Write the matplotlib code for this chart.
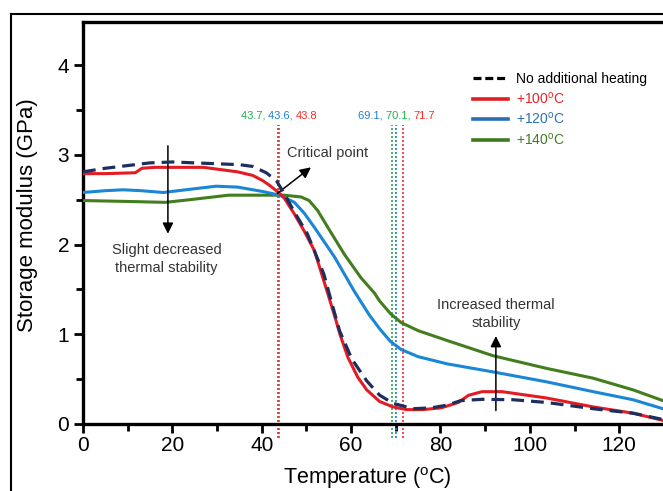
import matplotlib
matplotlib.use("Agg")
import matplotlib.pyplot as plt
from matplotlib.lines import Line2D

plt.rcParams['font.family'] = ['Liberation Sans', 'DejaVu Sans']
plt.rcParams['mathtext.fontset'] = 'custom'
plt.rcParams['mathtext.rm'] = 'Liberation Sans'

# data
temp_none = [0, 5, 10, 15, 20, 25, 30, 35, 38, 41, 43.3, 45, 47.1, 50.2, 53.9, 55.5, 57.4, 60.2, 63.5, 66.4,
             69.4, 73.9, 78, 81.5, 84.5, 89.3, 96.3, 103.7, 114.2, 123.1, 129.8]
mod_none = [2.81, 2.85, 2.88, 2.91, 2.92, 2.91, 2.90, 2.89, 2.87, 2.80, 2.71, 2.57, 2.38, 2.12, 1.67, 1.38, 1.04,
            0.72, 0.48, 0.32, 0.23, 0.17, 0.18, 0.21, 0.26, 0.275, 0.27, 0.24, 0.17, 0.12, 0.05]

temp_100 = [0, 5, 11.7, 13.2, 16, 20, 27, 34.6, 38, 40.3, 42, 44, 45, 47.3, 49.5, 51.8, 54.8, 56.4, 57.5, 59.3,
            61.5, 63.5, 66.4, 69.4, 72.4, 76, 80.2, 84, 86.3, 89.3, 93.8, 103.7, 114.2, 123.1, 129.8]
mod_100 = [2.79, 2.79, 2.80, 2.85, 2.86, 2.86, 2.86, 2.81, 2.77, 2.71, 2.65, 2.57, 2.52, 2.34, 2.15, 1.93, 1.45,
           1.19, 1.0, 0.74, 0.52, 0.38, 0.25, 0.19, 0.16, 0.16, 0.18, 0.24, 0.32, 0.36, 0.36, 0.29, 0.19, 0.12, 0.04]

temp_120 = [0, 5, 9, 13, 18, 23, 29.8, 34.6, 40.3, 44, 47.3, 49.5, 51.8, 56.3, 60.7, 64, 66.4, 68.8, 71.2, 75,
            81.5, 91.8, 103.7, 114.2, 123.1, 129.8]
mod_120 = [2.58, 2.60, 2.61, 2.60, 2.58, 2.61, 2.65, 2.64, 2.59, 2.55, 2.47, 2.35, 2.19, 1.86, 1.48, 1.22, 1.06,
           0.92, 0.83, 0.75, 0.67, 0.58, 0.47, 0.36, 0.27, 0.17]

temp_140 = [0, 10, 18.4, 24, 32.6, 40.3, 45, 48.8, 50.6, 52.5, 54.8, 58.5, 62.2, 65.2, 66.4, 68.8, 71.2, 75,
            81.5, 91.8, 103.7, 114.2, 123.1, 129.8]
mod_140 = [2.49, 2.48, 2.47, 2.50, 2.55, 2.55, 2.55, 2.53, 2.49, 2.38, 2.19, 1.89, 1.63, 1.46, 1.37, 1.23, 1.13,
           1.04, 0.93, 0.76, 0.62, 0.51, 0.38, 0.26]

# critical temperatures, in label order
onset_vals = [43.7, 43.6, 43.8]
end_vals = [69.1, 70.1, 71.7]

c_red = '#e31b23'
c_blue = '#1a86d6'
c_green = '#427d1e'
c_navy = '#1c2f5e'
lab_green, lab_blue, lab_red = '#22b04b', '#1e7fd0', '#ff2a2a'

fig = plt.figure(figsize=(6.63, 4.91), dpi=100)
ax = fig.add_axes([0.1252, 0.1365, 0.8748, 0.8187])

ax.plot(temp_none, mod_none, color=c_navy, lw=2.3, ls=(0, (4, 2.2)), zorder=4)
ax.plot(temp_140, mod_140, color=c_green, lw=2.2, zorder=3)
ax.plot(temp_120, mod_120, color=c_blue, lw=2.2, zorder=3)
ax.plot(temp_100, mod_100, color=c_red, lw=2.2, zorder=3)

# dotted transition lines
vcols = [lab_green, lab_blue, lab_red]
for vals, order in [(onset_vals, [1, 0, 2]), (end_vals, [0, 1, 2])]:
    for i in order:
        ax.plot([vals[i], vals[i]], [-0.16, 3.33], color=vcols[i], lw=1.2, ls=(0, (1.2, 1.2)),
                clip_on=False, zorder=2)


def rainbow(x, y, parts, size=8):
    t = ax.text(x, y, parts[0][0], color=parts[0][1], fontsize=size, ha='left', va='baseline')
    for s, c in parts[1:]:
        t = ax.annotate(s, xy=(1, 0), xycoords=t, xytext=(0, 0), textcoords='offset points',
                        color=c, fontsize=size, ha='left', va='bottom')


rainbow(35.3, 3.40, [('%.1f, ' % onset_vals[0], lab_green), ('%.1f, ' % onset_vals[1], lab_blue),
                     ('%.1f' % onset_vals[2], lab_red)])
rainbow(61.6, 3.40, [('%.1f, ' % end_vals[0], lab_blue), ('%.1f, ' % end_vals[1], lab_green),
                     ('%.1f' % end_vals[2], lab_red)])

# annotations
txt_col = '#333333'
arr = dict(arrowstyle='-|>', color='black', lw=1.1, mutation_scale=16, shrinkA=0, shrinkB=0)
ax.annotate('', xy=(19, 2.12), xytext=(19, 3.1), arrowprops=arr)
ax.text(18.7, 1.84, 'Slight decreased\nthermal stability', ha='center', va='center', fontsize=10.5,
        color=txt_col, linespacing=1.35)
ax.annotate('', xy=(51, 2.86), xytext=(43.5, 2.57), arrowprops=arr)
ax.text(54.7, 3.02, 'Critical point', ha='center', va='center', fontsize=10.5, color=txt_col)
ax.annotate('', xy=(92.4, 0.98), xytext=(92.4, 0.15), arrowprops=arr)
ax.text(92.4, 1.23, 'Increased thermal\nstability', ha='center', va='center', fontsize=10.5,
        color=txt_col, linespacing=1.35)

# legend
handles = [Line2D([], [], color='black', lw=2.3, ls=(0, (2.5, 1.2))),
           Line2D([], [], color='#e02020', lw=2.6),
           Line2D([], [], color='#2a6db5', lw=2.6),
           Line2D([], [], color='#3f7a1f', lw=2.6)]
labels = ['No additional heating', r'+100$^\mathregular{o}$C', r'+120$^\mathregular{o}$C',
          r'+140$^\mathregular{o}$C']
leg = ax.legend(handles, labels, loc='upper left', bbox_to_anchor=(0.713, 0.853),
                bbox_transform=fig.transFigure, frameon=False, borderpad=0, borderaxespad=0,
                handlelength=2.55, handletextpad=0.6, labelspacing=0.32,
                prop={'size': 10})
for t, c in zip(leg.get_texts(), ['black', '#e8232a', '#2e6fb5', '#3e7d22']):
    t.set_color(c)

ax.set_xlim(0, 129.8)
ax.set_ylim(0, 4.48)
ax.set_xticks([0, 20, 40, 60, 80, 100, 120])
ax.set_xticks([10, 30, 50, 70, 90, 110], minor=True)
ax.set_yticks([0, 1, 2, 3, 4])
ax.set_yticks([0.5, 1.5, 2.5, 3.5], minor=True)
ax.tick_params(which='major', length=6.5, width=2, labelsize=15, direction='out')
ax.tick_params(axis='x', which='major', pad=2)
ax.tick_params(axis='y', which='major', pad=3.5)
ax.tick_params(which='minor', length=5, width=2, direction='out')
for s in ['left', 'bottom', 'top']:
    ax.spines[s].set_linewidth(2.4)
ax.spines['right'].set_visible(False)

ax.set_ylabel('Storage modulus (GPa)', fontsize=16)
ax.yaxis.set_label_coords(-0.078, 0.52)
ax.set_xlabel(r'Temperature ($^\mathregular{o}$C)', fontsize=15.5)
ax.xaxis.set_label_coords(0.491, -0.103)

# outer frame of the original figure
fig.add_artist(Line2D([0.016, 0.016], [0, 0.9715], color='black', lw=1.5, transform=fig.transFigure))
fig.add_artist(Line2D([0.016, 1.0], [0.9715, 0.9715], color='black', lw=1.5, transform=fig.transFigure))

fig.savefig('out.png', dpi=100)
